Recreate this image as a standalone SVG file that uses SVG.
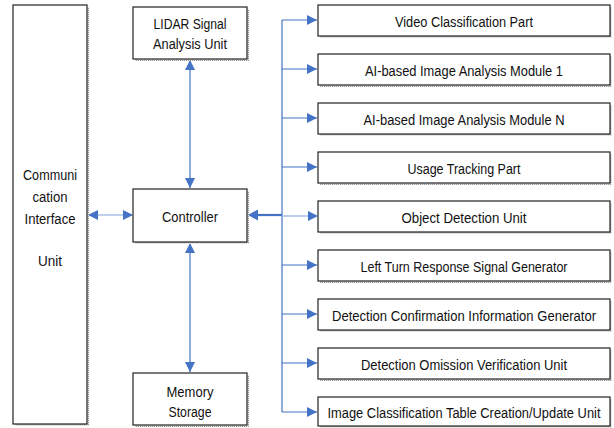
<svg xmlns="http://www.w3.org/2000/svg" width="614" height="428" viewBox="0 0 614 428">
  <defs>
    <marker id="arr" viewBox="0 0 10 10" refX="10" refY="5" markerWidth="10" markerHeight="10" markerUnits="userSpaceOnUse" orient="auto-start-reverse">
      <path d="M0,0 L10,5 L0,10 z" fill="#4472C4"/>
    </marker>
    <pattern id="dots" width="2" height="2" patternUnits="userSpaceOnUse">
      <rect width="2" height="2" fill="#e4e4e4"/>
      <rect width="1" height="1" fill="#9a9a9a"/>
    </pattern>
  </defs>
  <style>
    .box { fill: #ffffff; stroke: #222222; stroke-width: 1.2; }
    .shadow { fill: url(#dots); }
    .lbl { font-family: "Liberation Sans", Arial, sans-serif; font-size: 15.5px; fill: #111111; text-anchor: middle; }
    .wire { stroke: #4472C4; stroke-width: 1.2; fill: none; }
    .soft { stroke: #A9C1E9; stroke-width: 1.6; fill: none; }
  </style>
  <rect width="614" height="428" fill="#ffffff"/>

  <!-- connectors -->
  <g id="connectors">
    <!-- interface <-> controller -->
    <line class="soft" x1="88" y1="215" x2="132" y2="215"/>
    <path d="M98,210 L88,215 L98,220 z" fill="#4472C4"/>
    <path d="M123,210 L133,215 L123,220 z" fill="#4472C4"/>
    <!-- LIDAR <-> controller -->
    <line class="wire" x1="190" y1="60" x2="190" y2="188" marker-start="url(#arr)" marker-end="url(#arr)"/>
    <!-- controller <-> memory -->
    <line class="wire" x1="190" y1="243" x2="190" y2="372" marker-start="url(#arr)" marker-end="url(#arr)"/>
    <!-- controller <- bus -->
    <line x1="282" y1="215" x2="250" y2="215" stroke="#4472C4" stroke-width="2.2"/>
    <path d="M258,209.5 L248,215 L258,220.5 z" fill="#4472C4"/>
    <!-- bus -->
    <line class="wire" x1="282" y1="20" x2="282" y2="412"/>
    <line class="wire" x1="282" y1="20" x2="317" y2="20" marker-end="url(#arr)"/>
    <line class="wire" x1="282" y1="69" x2="317" y2="69" marker-end="url(#arr)"/>
    <line class="wire" x1="282" y1="118" x2="317" y2="118" marker-end="url(#arr)"/>
    <line class="wire" x1="282" y1="167" x2="317" y2="167" marker-end="url(#arr)"/>
    <line class="soft" x1="282" y1="216" x2="310" y2="216"/>
    <path d="M308,211 L318,216 L308,221 z" fill="#4472C4"/>
    <line class="wire" x1="282" y1="265" x2="317" y2="265" marker-end="url(#arr)"/>
    <line class="wire" x1="282" y1="314" x2="317" y2="314" marker-end="url(#arr)"/>
    <line class="wire" x1="282" y1="363" x2="317" y2="363" marker-end="url(#arr)"/>
    <line class="wire" x1="282" y1="412" x2="317" y2="412" marker-end="url(#arr)"/>
  </g>

  <!-- nodes -->
  <g id="comm-interface">
    <rect class="shadow" x="15" y="7" width="74" height="419"/>
    <rect class="box" x="13" y="5" width="74" height="419"/>
    <text class="lbl" x="50" y="180" textLength="54" lengthAdjust="spacingAndGlyphs">Communi</text>
    <text class="lbl" x="50" y="202" textLength="35" lengthAdjust="spacingAndGlyphs">cation</text>
    <text class="lbl" x="50" y="224" textLength="51" lengthAdjust="spacingAndGlyphs">Interface</text>
    <text class="lbl" x="50" y="266" textLength="24" lengthAdjust="spacingAndGlyphs">Unit</text>
  </g>
  <g id="lidar">
    <rect class="shadow" x="135" y="9" width="114" height="52"/>
    <rect class="box" x="133" y="7" width="114" height="52"/>
    <text class="lbl" x="190" y="29" textLength="73" lengthAdjust="spacingAndGlyphs">LIDAR Signal</text>
    <text class="lbl" x="190" y="49" textLength="74" lengthAdjust="spacingAndGlyphs">Analysis Unit</text>
  </g>
  <g id="controller">
    <rect class="shadow" x="135" y="191" width="114" height="53"/>
    <rect class="box" x="133" y="189" width="114" height="53"/>
    <text class="lbl" x="190" y="222" textLength="56" lengthAdjust="spacingAndGlyphs">Controller</text>
  </g>
  <g id="memory">
    <rect class="shadow" x="135" y="375" width="114" height="52"/>
    <rect class="box" x="133" y="373" width="114" height="52"/>
    <text class="lbl" x="190" y="397" textLength="47" lengthAdjust="spacingAndGlyphs">Memory</text>
    <text class="lbl" x="190" y="417" textLength="43" lengthAdjust="spacingAndGlyphs">Storage</text>
  </g>

  <g id="video-classification">
    <rect class="shadow" x="320" y="7" width="292" height="31"/>
    <rect class="box" x="318" y="5" width="292" height="31"/>
    <text class="lbl" x="464" y="27" textLength="138" lengthAdjust="spacingAndGlyphs">Video Classification Part</text>
  </g>
  <g id="ai-module-1">
    <rect class="shadow" x="320" y="56" width="292" height="31"/>
    <rect class="box" x="318" y="54" width="292" height="31"/>
    <text class="lbl" x="464" y="76" textLength="198" lengthAdjust="spacingAndGlyphs">AI-based Image Analysis Module 1</text>
  </g>
  <g id="ai-module-n">
    <rect class="shadow" x="320" y="105" width="292" height="31"/>
    <rect class="box" x="318" y="103" width="292" height="31"/>
    <text class="lbl" x="464" y="125" textLength="201" lengthAdjust="spacingAndGlyphs">AI-based Image Analysis Module N</text>
  </g>
  <g id="usage-tracking">
    <rect class="shadow" x="320" y="154" width="292" height="31"/>
    <rect class="box" x="318" y="152" width="292" height="31"/>
    <text class="lbl" x="464" y="174" textLength="113" lengthAdjust="spacingAndGlyphs">Usage Tracking Part</text>
  </g>
  <g id="object-detection">
    <rect class="shadow" x="320" y="203" width="292" height="31"/>
    <rect class="box" x="318" y="201" width="292" height="31"/>
    <text class="lbl" x="464" y="223" textLength="125" lengthAdjust="spacingAndGlyphs">Object Detection Unit</text>
  </g>
  <g id="left-turn">
    <rect class="shadow" x="320" y="252" width="292" height="31"/>
    <rect class="box" x="318" y="250" width="292" height="31"/>
    <text class="lbl" x="464" y="272" textLength="207" lengthAdjust="spacingAndGlyphs">Left Turn Response Signal Generator</text>
  </g>
  <g id="detection-confirmation">
    <rect class="shadow" x="320" y="301" width="292" height="31"/>
    <rect class="box" x="318" y="299" width="292" height="31"/>
    <text class="lbl" x="464" y="321" textLength="264" lengthAdjust="spacingAndGlyphs">Detection Confirmation Information Generator</text>
  </g>
  <g id="omission-verification">
    <rect class="shadow" x="320" y="350" width="292" height="31"/>
    <rect class="box" x="318" y="348" width="292" height="31"/>
    <text class="lbl" x="464" y="370" textLength="206" lengthAdjust="spacingAndGlyphs">Detection Omission Verification Unit</text>
  </g>
  <g id="classification-table">
    <rect class="shadow" x="320" y="399" width="292" height="29"/>
    <rect class="box" x="318" y="397" width="292" height="29"/>
    <text class="lbl" x="464" y="418" textLength="273" lengthAdjust="spacingAndGlyphs">Image Classification Table Creation/Update Unit</text>
  </g>
</svg>
